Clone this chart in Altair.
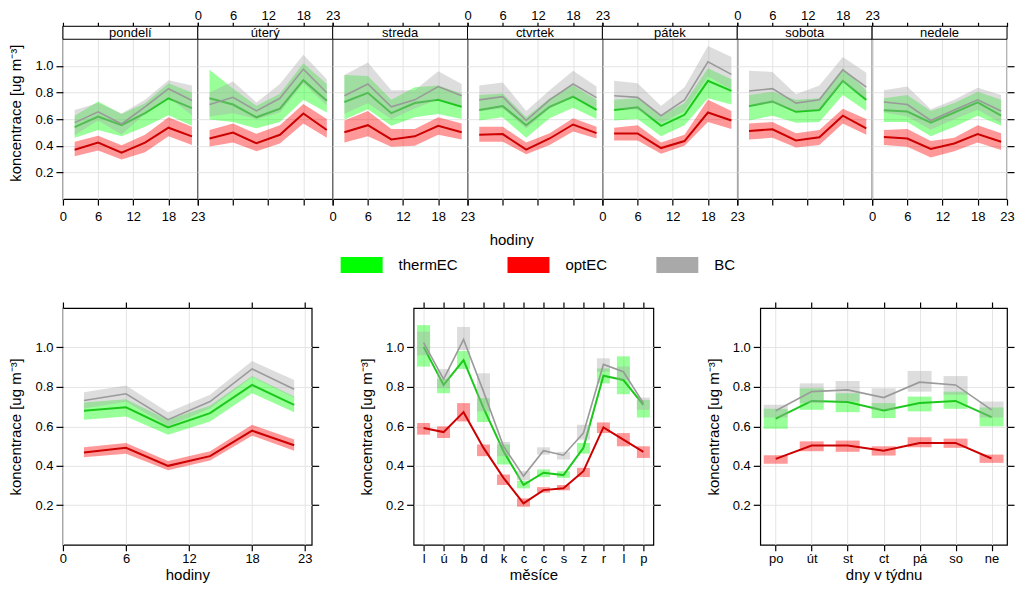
import altair as alt
import pandas as pd

FONT = "Liberation Sans"
GRID = "#e4e4e4"

SERIES = ["thermEC", "optEC", "BC"]
BAND_COLORS = ["#00ff00", "#ff0000", "#a9a9a9"]
LINE_COLORS = ["#1cc81c", "#cc0000", "#9a9a9a"]
LINE_WIDTHS = [2, 2, 1.6]

HOURS = [2, 6, 10, 14, 18, 22]
HOUR_TICKS = [0, 6, 12, 18, 23]
Y_TICKS = [0.2, 0.4, 0.6, 0.8, 1.0]
DAY_NAMES = ["pondelí", "úterý", "streda", "ctvrtek", "pátek", "sobota", "nedele"]
MONTHS = list(range(1, 13))
MONTH_LABELS = ["l", "ú", "b", "d", "k", "c", "c", "s", "z", "r", "l", "p"]
WEEKDAYS = list(range(1, 8))
WEEKDAY_LABELS = ["po", "út", "st", "ct", "pá", "so", "ne"]
Y_TITLE = "koncentrace [ug m⁻³]"

# ---- top row: hour of day per weekday ----
TOP_THERM_MEAN = [
    [0.540, 0.619, 0.555, 0.645, 0.757, 0.683],
    [0.757, 0.710, 0.614, 0.679, 0.893, 0.738],
    [0.729, 0.798, 0.645, 0.721, 0.745, 0.693],
    [0.669, 0.698, 0.555, 0.693, 0.769, 0.669],
    [0.669, 0.690, 0.550, 0.633, 0.888, 0.812],
    [0.698, 0.733, 0.655, 0.669, 0.888, 0.745],
    [0.667, 0.657, 0.574, 0.650, 0.726, 0.626],
]
TOP_THERM_LO = [
    [0.460, 0.519, 0.471, 0.543, 0.630, 0.550],
    [0.598, 0.579, 0.531, 0.579, 0.745, 0.650],
    [0.598, 0.674, 0.550, 0.614, 0.638, 0.602],
    [0.590, 0.614, 0.460, 0.607, 0.686, 0.602],
    [0.590, 0.602, 0.471, 0.555, 0.757, 0.710],
    [0.590, 0.626, 0.574, 0.579, 0.781, 0.662],
    [0.579, 0.579, 0.471, 0.543, 0.626, 0.550],
]
TOP_THERM_HI = [
    [0.626, 0.733, 0.638, 0.720, 0.870, 0.800],
    [0.971, 0.830, 0.700, 0.790, 1.020, 0.864],
    [0.931, 0.924, 0.745, 0.840, 0.852, 0.793],
    [0.781, 0.793, 0.614, 0.757, 0.852, 0.745],
    [0.745, 0.757, 0.626, 0.721, 0.983, 0.900],
    [0.781, 0.805, 0.745, 0.757, 0.983, 0.817],
    [0.757, 0.781, 0.662, 0.721, 0.805, 0.745],
]
TOP_OPT_MEAN = [
    [0.371, 0.424, 0.348, 0.424, 0.536, 0.471],
    [0.455, 0.500, 0.419, 0.483, 0.643, 0.519],
    [0.502, 0.555, 0.448, 0.471, 0.550, 0.502],
    [0.483, 0.488, 0.371, 0.455, 0.560, 0.495],
    [0.493, 0.493, 0.383, 0.436, 0.650, 0.590],
    [0.512, 0.524, 0.440, 0.464, 0.626, 0.531],
    [0.467, 0.455, 0.376, 0.417, 0.488, 0.431],
]
TOP_OPT_LO = [
    [0.321, 0.364, 0.298, 0.352, 0.471, 0.407],
    [0.395, 0.424, 0.360, 0.417, 0.567, 0.460],
    [0.424, 0.471, 0.393, 0.400, 0.483, 0.448],
    [0.431, 0.431, 0.336, 0.407, 0.507, 0.455],
    [0.440, 0.440, 0.340, 0.400, 0.579, 0.526],
    [0.448, 0.460, 0.388, 0.407, 0.567, 0.483],
    [0.407, 0.393, 0.312, 0.360, 0.424, 0.369],
]
TOP_OPT_HI = [
    [0.431, 0.476, 0.405, 0.483, 0.614, 0.543],
    [0.519, 0.567, 0.490, 0.555, 0.714, 0.602],
    [0.590, 0.662, 0.526, 0.526, 0.614, 0.567],
    [0.543, 0.543, 0.424, 0.495, 0.607, 0.543],
    [0.536, 0.555, 0.424, 0.483, 0.745, 0.662],
    [0.567, 0.579, 0.495, 0.519, 0.679, 0.602],
    [0.519, 0.526, 0.436, 0.460, 0.555, 0.495],
]
TOP_BC_MEAN = [
    [0.574, 0.655, 0.564, 0.693, 0.829, 0.740],
    [0.710, 0.764, 0.662, 0.757, 0.976, 0.798],
    [0.776, 0.864, 0.693, 0.745, 0.845, 0.776],
    [0.745, 0.769, 0.590, 0.745, 0.864, 0.762],
    [0.776, 0.764, 0.626, 0.745, 1.031, 0.936],
    [0.812, 0.829, 0.721, 0.745, 0.971, 0.840],
    [0.729, 0.710, 0.590, 0.669, 0.745, 0.662],
]
TOP_BC_LO = [
    [0.480, 0.590, 0.485, 0.640, 0.765, 0.630],
    [0.620, 0.645, 0.600, 0.650, 0.870, 0.700],
    [0.640, 0.720, 0.600, 0.680, 0.750, 0.700],
    [0.660, 0.680, 0.530, 0.680, 0.770, 0.680],
    [0.680, 0.670, 0.570, 0.660, 0.920, 0.820],
    [0.700, 0.720, 0.660, 0.670, 0.880, 0.750],
    [0.650, 0.620, 0.520, 0.600, 0.670, 0.570],
]
TOP_BC_HI = [
    [0.669, 0.721, 0.643, 0.745, 0.893, 0.852],
    [0.800, 0.883, 0.726, 0.864, 1.083, 0.900],
    [0.931, 1.026, 0.817, 0.817, 0.960, 0.864],
    [0.852, 0.876, 0.662, 0.817, 0.964, 0.845],
    [0.888, 0.869, 0.698, 0.840, 1.150, 1.067],
    [0.964, 0.955, 0.788, 0.852, 1.067, 0.948],
    [0.817, 0.845, 0.674, 0.745, 0.836, 0.781],
]

# ---- bottom left: hour of day ----
HOUR_THERM_MEAN = [0.679, 0.697, 0.595, 0.667, 0.810, 0.709]
HOUR_THERM_LO = [0.634, 0.650, 0.558, 0.625, 0.768, 0.672]
HOUR_THERM_HI = [0.721, 0.738, 0.634, 0.706, 0.855, 0.751]
HOUR_OPT_MEAN = [0.467, 0.491, 0.400, 0.449, 0.578, 0.504]
HOUR_OPT_LO = [0.444, 0.461, 0.378, 0.427, 0.553, 0.477]
HOUR_OPT_HI = [0.494, 0.516, 0.424, 0.474, 0.608, 0.533]
HOUR_BC_MEAN = [0.731, 0.765, 0.634, 0.726, 0.891, 0.788]
HOUR_BC_LO = [0.690, 0.725, 0.600, 0.690, 0.850, 0.745]
HOUR_BC_HI = [0.773, 0.807, 0.671, 0.760, 0.931, 0.835]

# ---- bottom middle: month ----
MONTH_THERM_MEAN = [1.003, 0.810, 0.936, 0.692, 0.474, 0.303, 0.365, 0.353, 0.491, 0.857, 0.835, 0.709]
MONTH_THERM_LO = [0.903, 0.768, 0.891, 0.622, 0.407, 0.286, 0.343, 0.339, 0.462, 0.818, 0.763, 0.645]
MONTH_THERM_HI = [1.113, 0.840, 0.982, 0.743, 0.508, 0.323, 0.382, 0.373, 0.516, 0.894, 0.955, 0.734]
MONTH_OPT_MEAN = [0.592, 0.571, 0.672, 0.491, 0.339, 0.210, 0.277, 0.286, 0.373, 0.595, 0.533, 0.471]
MONTH_OPT_LO = [0.558, 0.541, 0.625, 0.449, 0.303, 0.193, 0.264, 0.276, 0.343, 0.566, 0.499, 0.440]
MONTH_OPT_HI = [0.617, 0.600, 0.718, 0.508, 0.356, 0.235, 0.292, 0.303, 0.390, 0.620, 0.566, 0.499]
MONTH_BC_MEAN = [1.025, 0.840, 1.040, 0.776, 0.499, 0.348, 0.477, 0.454, 0.566, 0.914, 0.877, 0.718]
MONTH_BC_LO = [0.960, 0.793, 0.987, 0.676, 0.449, 0.326, 0.457, 0.432, 0.533, 0.877, 0.835, 0.684]
MONTH_BC_HI = [1.080, 0.890, 1.104, 0.869, 0.521, 0.373, 0.494, 0.471, 0.608, 0.945, 0.903, 0.746]

# ---- bottom right: day of week ----
WD_THERM_MEAN = [0.639, 0.729, 0.723, 0.681, 0.718, 0.729, 0.647]
WD_THERM_LO = [0.588, 0.684, 0.672, 0.642, 0.676, 0.689, 0.600]
WD_THERM_HI = [0.689, 0.793, 0.768, 0.718, 0.751, 0.776, 0.696]
WD_OPT_MEAN = [0.435, 0.503, 0.503, 0.477, 0.516, 0.516, 0.437]
WD_OPT_LO = [0.410, 0.474, 0.471, 0.452, 0.494, 0.491, 0.415]
WD_OPT_HI = [0.454, 0.524, 0.528, 0.499, 0.545, 0.538, 0.457]
WD_BC_MEAN = [0.679, 0.776, 0.785, 0.746, 0.824, 0.810, 0.684]
WD_BC_LO = [0.645, 0.718, 0.726, 0.684, 0.776, 0.760, 0.645]
WD_BC_HI = [0.709, 0.818, 0.830, 0.793, 0.881, 0.855, 0.726]

# ---- layout ----
TOP_W = 135
TOP_H = 173
STRIP_PX = 13
Y_TOP_MAX = 1.2 * TOP_H / (TOP_H - STRIP_PX)
BOT_H = 237

LEGEND = alt.Legend(
    orient="none", legendX=278, legendY=218, direction="horizontal", title=None,
    symbolType="M-1,-0.38H1V0.38H-1Z", symbolSize=1764, symbolStrokeWidth=0,
    symbolOpacity=1, labelFontSize=15, labelFont=FONT, labelColor="black",
    labelOffset=16, columnPadding=49,
)
COLOR_ENC = alt.Color("series:N", scale=alt.Scale(domain=SERIES, range=BAND_COLORS), legend=LEGEND)
STROKE_ENC = alt.Stroke("series:N", scale=alt.Scale(domain=SERIES, range=LINE_COLORS), legend=None)


def frames(xs, groups):
    out = {}
    for s, (m, lo, hi) in zip(SERIES, groups):
        out[s] = pd.DataFrame({"x": xs, "mean": m, "lo": lo, "hi": hi, "series": s})
    return out


def panel(fr, x_type, x_scale, ax_bottom, ax_top, y_scale, ay_left, ay_right,
          kind, width, height, bar_size=None, extra=None):
    layers = []
    for i, s in enumerate(SERIES):
        d = fr[s]
        xb = alt.X(f"x:{x_type}", scale=x_scale, axis=ax_bottom if i == 0 else None)
        xt = alt.X(f"x:{x_type}", scale=x_scale, axis=ax_top if i == 0 else None)
        yb = alt.Y("lo:Q", scale=y_scale, axis=ay_left if i == 0 else None)
        yl = alt.Y("mean:Q", scale=y_scale, axis=ay_right if i == 0 else None)
        if kind == "area":
            band = alt.Chart(d).mark_area(opacity=0.4)
        else:
            band = alt.Chart(d).mark_bar(opacity=0.4, size=bar_size)
        band = band.encode(x=xb, y=yb, y2="hi:Q", color=COLOR_ENC)
        line = alt.Chart(d).mark_line(strokeWidth=LINE_WIDTHS[i]).encode(
            x=xt, y=yl, stroke=STROKE_ENC)
        layers += [band, line]
    if extra:
        layers += extra
    return alt.layer(*layers).resolve_axis(x="independent", y="independent").properties(
        width=width, height=height)


def x_axis(orient, labels, grid, title=None, values=None, label_expr=None, tick=6, pad=2):
    kw = dict(orient=orient, labels=labels, grid=grid, gridColor=GRID, tickSize=tick,
              labelFlush=False, labelOverlap=False, labelPadding=pad, labelAngle=0,
              domain=False, title=title, titlePadding=2, labelFontSize=13,
              titleFontSize=15, titleFontWeight="normal")
    if values is not None:
        kw["values"] = values
    if label_expr is not None:
        kw["labelExpr"] = label_expr
    return alt.Axis(**kw)


def y_axis_left(with_labels, title=None):
    if with_labels:
        return alt.Axis(orient="left", values=Y_TICKS, format=".1f", grid=True, gridColor=GRID,
                        tickSize=7, labelPadding=3, domain=False, title=title, titlePadding=11,
                        labelFontSize=13, titleFontSize=15, titleFontWeight="normal")
    return alt.Axis(orient="left", values=Y_TICKS, labels=False, ticks=False, grid=True,
                    gridColor=GRID, domain=False, title=None)


def y_axis_right():
    return alt.Axis(orient="right", values=Y_TICKS, labels=False, grid=False, tickSize=7,
                    domain=False, title=None)


# ---- top row ----
top_x_scale = alt.Scale(domain=[0, 23], nice=False, zero=False)
top_y_scale = alt.Scale(domain=[0, Y_TOP_MAX], nice=False, zero=True)
top_panels = []
for di, day in enumerate(DAY_NAMES):
    groups = [
        (TOP_THERM_MEAN[di], TOP_THERM_LO[di], TOP_THERM_HI[di]),
        (TOP_OPT_MEAN[di], TOP_OPT_LO[di], TOP_OPT_HI[di]),
        (TOP_BC_MEAN[di], TOP_BC_LO[di], TOP_BC_HI[di]),
    ]
    fr = frames(HOURS, groups)
    strip_df = pd.DataFrame({"label": [day]})
    strip_rect = alt.Chart(strip_df).mark_rect(fill="white", stroke="black", strokeWidth=1).encode(
        x=alt.XDatum(0, axis=None), x2=alt.X2Datum(23),
        y=alt.YDatum(1.2, axis=None), y2=alt.Y2Datum(Y_TOP_MAX))
    strip_text = alt.Chart(strip_df).mark_text(font=FONT, fontSize=13, baseline="middle",
                                               color="black").encode(
        x=alt.XDatum(11.5, axis=None), y=alt.YDatum((1.2 + Y_TOP_MAX) / 2, axis=None),
        text="label:N")
    p = panel(
        fr, "Q", top_x_scale,
        x_axis("bottom", di % 2 == 0, True, values=HOUR_TICKS, pad=5),
        x_axis("top", di % 2 == 1, False, values=HOUR_TICKS, tick=4, pad=0),
        top_y_scale,
        y_axis_left(di == 0, Y_TITLE if di == 0 else None),
        y_axis_right() if di == len(DAY_NAMES) - 1 else None,
        "area", TOP_W, TOP_H, extra=[strip_rect, strip_text])
    top_panels.append(p)

top_row = alt.hconcat(*top_panels, spacing=0, bounds="flush",
                      title=alt.TitleParams("hodiny", orient="bottom", anchor="middle",
                                            fontSize=15, fontWeight="normal", font=FONT,
                                            color="black", offset=9))

# ---- bottom row ----
bot_y_scale = alt.Scale(domain=[0, 1.2], nice=False, zero=True)

hour_panel = panel(
    frames(HOURS, [(HOUR_THERM_MEAN, HOUR_THERM_LO, HOUR_THERM_HI),
                   (HOUR_OPT_MEAN, HOUR_OPT_LO, HOUR_OPT_HI),
                   (HOUR_BC_MEAN, HOUR_BC_LO, HOUR_BC_HI)]),
    "Q", alt.Scale(domain=[0, 23.67], nice=False, zero=False),
    x_axis("bottom", True, True, title="hodiny", values=HOUR_TICKS),
    x_axis("top", False, False, values=HOUR_TICKS),
    bot_y_scale, y_axis_left(True, Y_TITLE), y_axis_right(),
    "area", 249, BOT_H)

month_expr = "[" + ",".join(f"'{m}'" for m in MONTH_LABELS) + "][datum.value - 1]"
month_panel = panel(
    frames(MONTHS, [(MONTH_THERM_MEAN, MONTH_THERM_LO, MONTH_THERM_HI),
                    (MONTH_OPT_MEAN, MONTH_OPT_LO, MONTH_OPT_HI),
                    (MONTH_BC_MEAN, MONTH_BC_LO, MONTH_BC_HI)]),
    "O", alt.Scale(type="point", padding=0.5),
    x_axis("bottom", True, True, title="měsíce", label_expr=month_expr),
    x_axis("top", False, False),
    bot_y_scale, y_axis_left(True, Y_TITLE), y_axis_right(),
    "bar", 240, BOT_H, bar_size=13)

wd_expr = "[" + ",".join(f"'{d}'" for d in WEEKDAY_LABELS) + "][datum.value - 1]"
wd_panel = panel(
    frames(WEEKDAYS, [(WD_THERM_MEAN, WD_THERM_LO, WD_THERM_HI),
                      (WD_OPT_MEAN, WD_OPT_LO, WD_OPT_HI),
                      (WD_BC_MEAN, WD_BC_LO, WD_BC_HI)]),
    "O", alt.Scale(type="point", padding=0.43),
    x_axis("bottom", True, True, title="dny v týdnu", label_expr=wd_expr),
    x_axis("top", False, False),
    bot_y_scale, y_axis_left(True, Y_TITLE), y_axis_right(),
    "bar", 247, BOT_H, bar_size=24)

bottom_row = alt.hconcat(
    hour_panel,
    alt.hconcat(month_panel, wd_panel, spacing=107, bounds="flush"),
    spacing=102, bounds="flush")

chart = alt.vconcat(top_row, bottom_row, spacing=52).properties(
    padding={"left": 0, "top": 0, "right": 0, "bottom": 0},
    background="white",
).configure_view(
    stroke="black", strokeWidth=1.2
).configure_axis(
    labelFont=FONT, titleFont=FONT, labelFontSize=13, titleFontSize=15,
    titleFontWeight="normal", labelColor="black", titleColor="black",
    tickColor="black", tickWidth=1.2
).configure_title(font=FONT, color="black")

chart.save("out.html", embed_options={"renderer": "svg", "actions": False})
